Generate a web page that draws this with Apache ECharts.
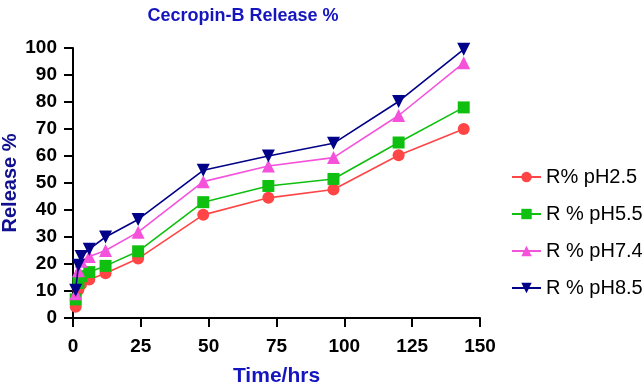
<!DOCTYPE html>
<html>
<head>
<meta charset="utf-8">
<script src="https://cdn.jsdelivr.net/npm/echarts@6/dist/echarts.min.js"></script>
<style>html,body{margin:0;padding:0;background:#fff}#c{width:644px;height:385px}</style>
</head>
<body>
<div id="c"></div>
<script>
var times = [1, 2, 3, 6, 12, 24, 48, 72, 96, 120, 144];
var seriesNames = ['R% pH2.5', 'R % pH5.5', 'R % pH7.4', 'R % pH8.5'];
var pH25 = [4.2, 10.5, 12.5, 14.3, 16.6, 22.0, 38.2, 44.5, 47.6, 60.3, 70.0];
var pH55 = [6.9, 13.0, 15.5, 17.0, 19.3, 24.7, 42.9, 48.9, 51.5, 65.0, 78.0];
var pH74 = [9.0, 17.5, 21.0, 22.8, 25.0, 31.8, 50.5, 56.3, 59.4, 75.0, 94.5];
var pH85 = [10.3, 19.5, 22.8, 25.5, 30.0, 36.5, 54.7, 60.0, 64.7, 80.2, 99.5];
var xTicks = [0, 25, 50, 75, 100, 125, 150];
var yTicks = [0, 10, 20, 30, 40, 50, 60, 70, 80, 90, 100];

var allValues = [pH25, pH55, pH74, pH85];
var colors = ['#ff4545', '#10c010', '#f552dc', '#000088'];
var symbols = ['circle', 'rect', 'triangle', 'path://M0,0 L10,0 L5,9 Z'];
var sizes = [12, 12, 13, 13];

function pairs(v) { return times.map(function (t, i) { return [t, v[i]]; }); }

var chart = echarts.init(document.getElementById('c'));
chart.setOption({
  animation: false,
  title: {
    text: 'Cecropin-B Release %',
    left: 238, top: 2, textAlign: 'center',
    textStyle: { fontFamily: 'Liberation Sans', fontWeight: 'bold', fontSize: 18, color: '#1515c0' }
  },
  grid: { left: 73, right: 164, top: 48, bottom: 67, containLabel: false, outerBoundsMode: 'none' },
  legend: {
    orient: 'vertical', left: 506, top: 162, itemGap: 17, itemWidth: 29, itemHeight: 13,
    itemTextGap: 8,
    textStyle: { fontFamily: 'Liberation Sans', fontSize: 20, color: '#000' },
    data: seriesNames
  },
  xAxis: {
    type: 'value', min: xTicks[0], max: xTicks[xTicks.length - 1], interval: 25,
    name: 'Time/hrs', nameLocation: 'middle', nameGap: 48,
    nameTextStyle: { fontFamily: 'Liberation Sans', fontWeight: 'bold', fontSize: 21, color: '#1515c0' },
    axisLine: { show: true, onZero: false, lineStyle: { color: '#000', width: 2 } },
    axisTick: { show: true, length: 9, lineStyle: { color: '#000', width: 2 } },
    axisLabel: { margin: 19, fontFamily: 'Liberation Sans', fontWeight: 'bold', fontSize: 19, color: '#000' },
    splitLine: { show: false }
  },
  yAxis: {
    type: 'value', min: yTicks[0], max: yTicks[yTicks.length - 1], interval: 10,
    name: 'Release %', nameLocation: 'middle', nameGap: 53, nameMoveOverlap: false,
    nameTextStyle: { fontFamily: 'Liberation Sans', fontWeight: 'bold', fontSize: 20, color: '#101090' },
    axisLine: { show: true, lineStyle: { color: '#000', width: 2 } },
    axisTick: { show: true, length: 9, lineStyle: { color: '#000', width: 2 } },
    axisLabel: { margin: 16, fontFamily: 'Liberation Sans', fontWeight: 'bold', fontSize: 19, color: '#000' },
    splitLine: { show: false }
  },
  series: allValues.map(function (v, i) {
    return {
      name: seriesNames[i], type: 'line', data: pairs(v),
      symbol: symbols[i], symbolSize: sizes[i],
      itemStyle: { color: colors[i] },
      lineStyle: { color: colors[i], width: 1.6 },
      z: 2 + i
    };
  })
});
</script>
</body>
</html>
